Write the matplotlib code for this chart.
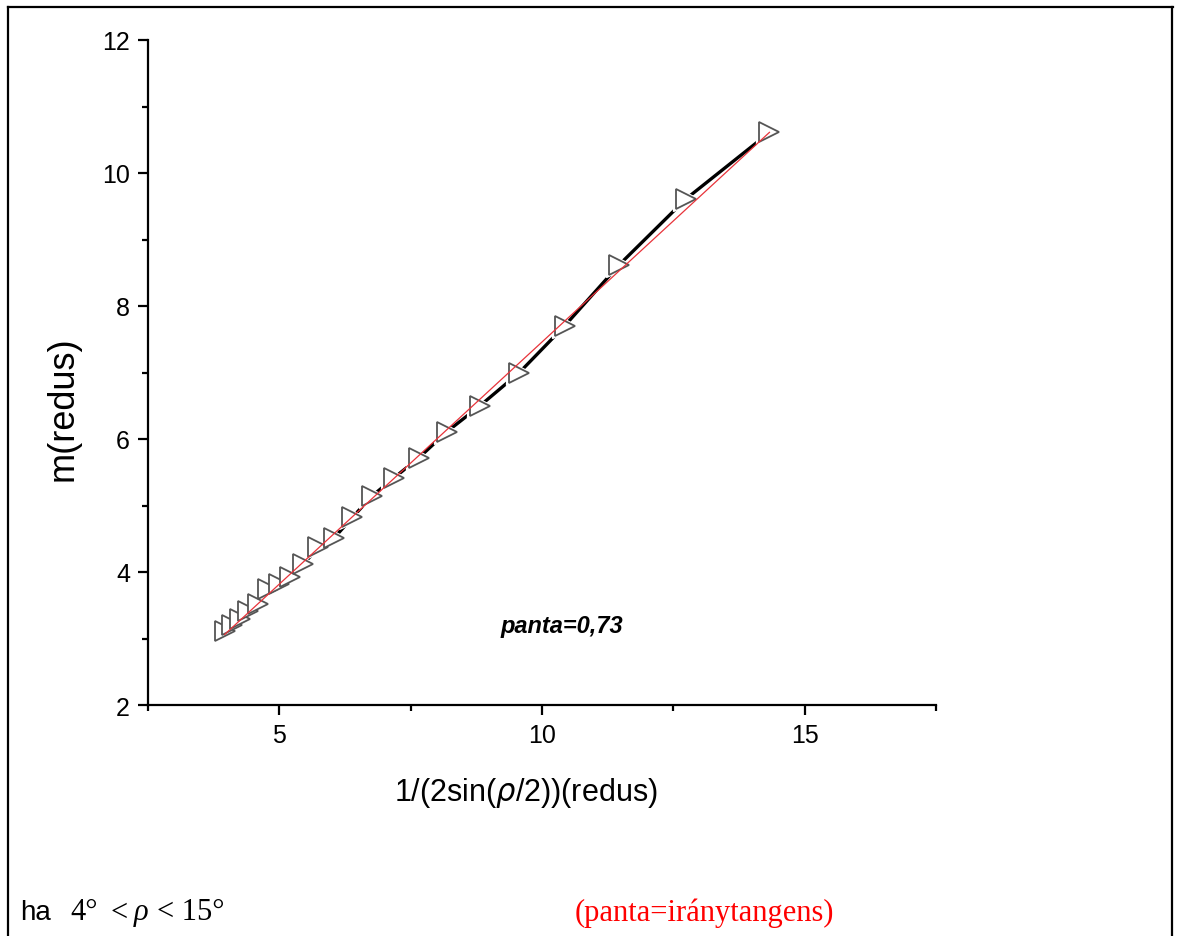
import numpy as np
import matplotlib.pyplot as plt
from matplotlib.lines import Line2D
from matplotlib.ticker import MultipleLocator

# 1/(2sin(rho/2)) values and m values
x_vals = [3.96, 4.10, 4.25, 4.41, 4.59, 4.78, 4.99, 5.21, 5.46, 5.74, 6.04,
          6.39, 6.76, 7.19, 7.66, 8.19, 8.82, 9.57, 10.43, 11.47, 12.74, 14.33]
m_vals = [3.12, 3.20, 3.29, 3.42, 3.52, 3.74, 3.82, 3.92, 4.12, 4.37, 4.51,
          4.82, 5.14, 5.42, 5.72, 6.11, 6.50, 7.00, 7.70, 8.62, 9.61, 10.61]
x_ticks = [5, 10, 15]
y_ticks = [2, 4, 6, 8, 10, 12]

W, H = 1181, 937
fig = plt.figure(figsize=(W / 100, H / 100), dpi=100)
plt.rcParams['font.family'] = ['Liberation Sans', 'DejaVu Sans']

ax = fig.add_axes([148 / W, 1 - 706 / H, (936 - 148) / W, (706 - 41) / H])

x = np.array(x_vals)
y = np.array(m_vals)

ax.plot(x, y, color='black', lw=2.4, zorder=2, solid_capstyle='butt')
# white gaps round the symbols
ax.plot(x, y, ls='none', marker='>', ms=18, mfc='white', mec='white', zorder=3)
ax.plot(x, y, ls='none', marker='>', ms=14, mfc='white', mec='#555555',
        mew=1.3, zorder=4)

k, b = np.polyfit(x, y, 1)
xf = np.array([x.min(), x.max()])
ax.plot(xf, k * xf + b, color='#e8333a', lw=0.9, zorder=5)

ax.text(10.37, 3.19, 'panta=0,73', fontsize=17, fontweight='bold',
        fontstyle='italic', ha='center', va='center')

ax.set_xlim(2.5, 17.5)
ax.set_ylim(2, 12)
ax.set_xticks(x_ticks)
ax.set_yticks(y_ticks)
ax.xaxis.set_minor_locator(MultipleLocator(2.5))
ax.yaxis.set_minor_locator(MultipleLocator(1))
for s in ['top', 'right']:
    ax.spines[s].set_visible(False)
for s in ['left', 'bottom']:
    ax.spines[s].set_linewidth(1.6)
ax.tick_params(which='major', direction='out', length=7, width=1.6,
               labelsize=18, pad=6)
ax.tick_params(which='minor', direction='out', length=4.5, width=1.6)

ax.set_xlabel('1/(2sin($\\rho$/2))(redus)', fontsize=22)
ax.set_ylabel('m(redus)', fontsize=26)
ax.xaxis.set_label_coords(0.48, -0.105)
ax.yaxis.set_label_coords(-0.085, 0.447)

# document box lines
lw_box = 1.6
fig.add_artist(Line2D([8 / W, 1173 / W], [1 - 8 / H, 1 - 8 / H],
                      transform=fig.transFigure, color='black', lw=lw_box))
fig.add_artist(Line2D([8 / W, 8 / W], [0, 1 - 8 / H],
                      transform=fig.transFigure, color='black', lw=lw_box))
fig.add_artist(Line2D([1172 / W, 1172 / W], [0, 1 - 8 / H],
                      transform=fig.transFigure, color='black', lw=lw_box))

ty = 1 - 913 / H
fig.text(20 / W, ty, 'ha', fontsize=20, va='center')
fig.text(70 / W, ty, '4°', fontsize=22, va='center', family='Liberation Serif')
fig.text(110 / W, ty, '<', fontsize=22, va='center', family='Liberation Serif')
fig.text(134 / W, ty, 'ρ', fontsize=22, va='center', family='Liberation Serif',
         style='italic')
fig.text(157 / W, ty, '< 15°', fontsize=22, va='center', family='Liberation Serif')
fig.text(704 / W, ty, '(panta=iránytangens)', fontsize=22, va='center',
         ha='center', color='red', family='Liberation Serif')

fig.savefig('out.png', dpi=100)
